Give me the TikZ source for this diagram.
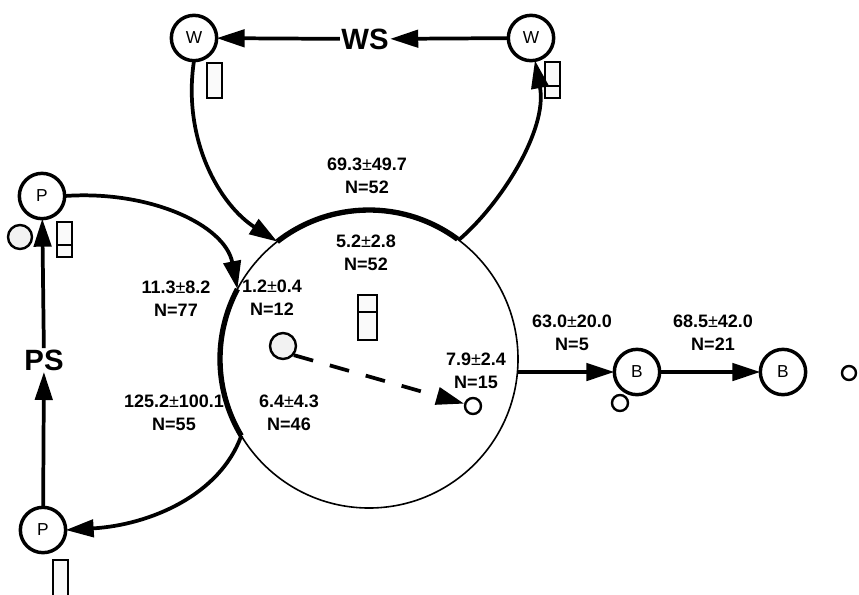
\documentclass[tikz,border=0pt]{standalone}
\usepackage{fontspec}
\setmainfont{Liberation Sans}
\usetikzlibrary{arrows.meta}
\newcommand\pmr{{\mdseries ±}}
\begin{document}
\begin{tikzpicture}[x=0.75pt,y=-0.75pt,
  state/.style={draw, circle, line width=2.6pt, minimum size=34pt, inner sep=0pt, outer sep=0pt, font=\fontsize{13}{15}\selectfont},
  arr/.style={line width=2.8pt, -{Triangle[length=21pt,width=13pt]}},
  lab/.style={align=center, font=\fontsize{13.5}{17}\selectfont\bfseries, inner sep=0pt},
  bigtxt/.style={font=\fontsize{22}{24}\selectfont\bfseries, inner sep=1pt},
  bx/.style={draw, line width=1.8pt, fill=black!2},
  dot/.style={draw, circle, line width=1.8pt, inner sep=0pt, fill=white},
  stip/.style={draw, circle, line width=1.8pt, inner sep=0pt, fill=black!5},
  thickarc/.style={line width=4pt},
]
\useasboundingbox (0,0) rectangle (859,594);

% main compartment
\node[draw, circle, line width=1.2pt, minimum size=223.5pt, inner sep=0pt, outer sep=0pt] (big) at (369,359) {};
\draw[thickarc] (big.128) arc[start angle=-128, end angle=-53.5, radius=149];
\draw[thickarc] (big.152) arc[start angle=-152, end angle=-211, radius=149];

% state nodes
\node[state] (Wl) at (194,38) {W};
\node[state] (Wr) at (531,38) {W};
\node[bigtxt] (WS) at (365,39) {WS};
\node[state] (Pt) at (42,196) {P};
\node[state] (Pb) at (43,530) {P};
\node[bigtxt] (PS) at (44,360) {PS};
\node[state] (B1) at (637,372) {B};
\node[state] (B2) at (783,372) {B};

% small markers
\node[stip, minimum size=19.5pt] (s1) at (283,346) {};
\node[dot, minimum size=12pt] (s2) at (473,406) {};
\node[stip, minimum size=18pt] (sp) at (20,237) {};
\node[dot, minimum size=12pt] (sb) at (620,403) {};
\node[dot, minimum size=10.5pt] (se) at (849,373) {};

% boxes
\draw[bx] (207,63) rectangle (222,98);
\draw[bx] (545,62) rectangle (560,98); \draw[line width=1.8pt] (545,86) -- (560,86);
\draw[bx] (57,222) rectangle (72,257); \draw[line width=1.8pt] (57,245) -- (72,245);
\draw[bx] (53,560) rectangle (68,604);
\draw[bx] (358,295) rectangle (377,340); \draw[line width=1.8pt] (358,312) -- (377,312);

% connectors
\draw[arr] (Wr) -- (WS);
\draw[arr] (WS) -- (Wl);
\draw[arr] (Pb) -- (PS);
\draw[arr] (PS) -- (Pt);
\draw[arr] (Wl.south) .. controls (182,140) and (220,205) .. (big.128);
\draw[arr] (big.53.5) .. controls (500,205) and (548,130) .. (Wr.-80);
\draw[arr] (Pt.east) .. controls (150,190) and (225,225) .. (big.152);
\draw[arr] (big.211) .. controls (220,495) and (150,525) .. (Pb.east);
\draw[arr] (big.-5) -- (B1);
\draw[arr] (B1) -- (B2);
\draw[line width=2.8pt, dash pattern=on 15pt off 13pt, -{Triangle[length=21pt,width=13pt]}] (s1.-40) -- (s2.165);

% labels
\node[lab] at (367,176) {69.3\pmr49.7\\N=52};
\node[lab] at (366,253) {5.2\pmr2.8\\N=52};
\node[lab] at (176,299) {11.3\pmr8.2\\N=77};
\node[lab] at (272,298) {1.2\pmr0.4\\N=12};
\node[lab] at (174,413) {125.2\pmr100.1\\N=55};
\node[lab] at (289,413) {6.4\pmr4.3\\N=46};
\node[lab] at (476,371) {7.9\pmr2.4\\N=15};
\node[lab] at (572,333) {63.0\pmr20.0\\N=5};
\node[lab] at (713,333) {68.5\pmr42.0\\N=21};
\end{tikzpicture}
\end{document}
